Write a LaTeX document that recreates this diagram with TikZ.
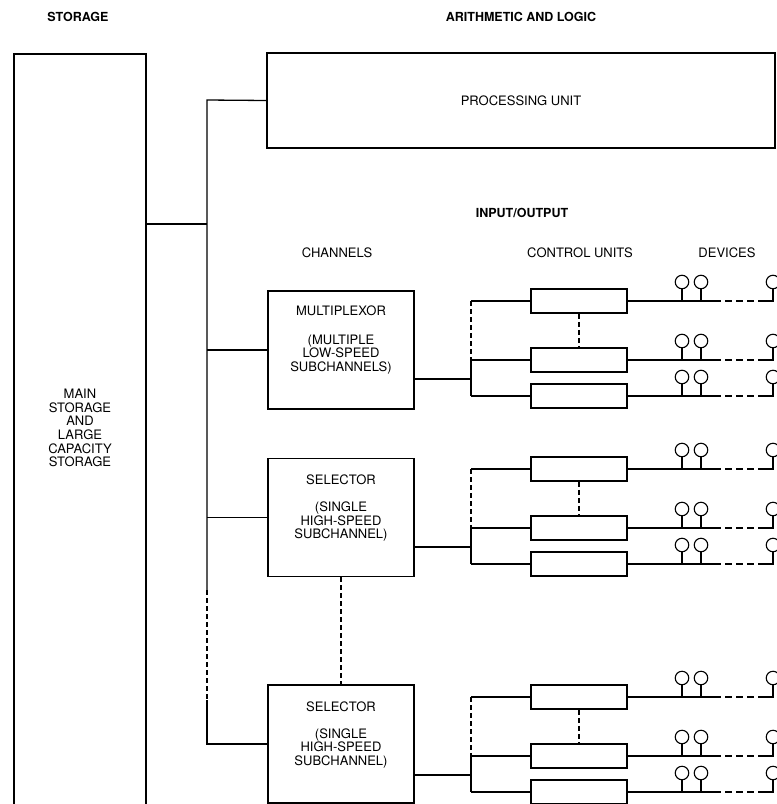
\documentclass[tikz,border=0pt]{standalone}
\usepackage{fontspec}
\setmainfont{TeX Gyre Heros}
\begin{document}
\begin{tikzpicture}[x=1pt,y=-1pt,
  box/.style={draw, rectangle, line width=1.5pt, inner sep=0pt},
  chan/.style={box, minimum width=146pt, minimum height=118pt},
  cu/.style={draw, rectangle, line width=1.8pt, minimum width=96pt, minimum height=24pt, inner sep=0pt},
  dev/.style={draw, circle, line width=1.1pt, minimum size=13.5pt, inner sep=0pt},
  wire/.style={line width=1.3pt},
  dsh/.style={wire, dash pattern=on 7pt off 4pt},
  vdsh/.style={wire, dash pattern=on 5pt off 3pt},
  lbl/.style={font=\fontsize{13}{13.6}\selectfont, inner sep=0pt},
  head/.style={font=\fontsize{12.5}{14}\selectfont\bfseries, inner sep=0pt}]
\useasboundingbox (0,0) rectangle (777,804);
\begin{scope}
\clip (0,0) rectangle (777,804);

% headings
\node[head] (hstor) at (78,17) {STORAGE};
\node[head] (harith) at (521,17) {ARITHMETIC AND LOGIC};
\node[head] (hio) at (522,213) {INPUT/OUTPUT};
\node[lbl] (hchan) at (337,253) {CHANNELS};
\node[lbl] (hcu) at (580,253) {CONTROL UNITS};
\node[lbl] (hdev) at (727,253) {DEVICES};

% storage
\node[box, minimum width=132pt, minimum height=800pt, anchor=north] (stor) at (80,53) {};
\node[lbl, align=center] (stort) at (80,428) {MAIN\\STORAGE\\AND\\LARGE\\CAPACITY\\STORAGE};

% processing unit
\node[box, minimum width=508pt, minimum height=95pt] (pu) at (521,100.5) {};
\node[lbl] (put) at (pu.center) {PROCESSING UNIT};

% channels
\node[chan] (mpx) at (341,350) {};
\node[chan] (sel1) at (341,517.5) {};
\node[chan] (sel2) at (341,744) {};
\node[lbl] (mpxa) at ([yshift=-21pt]mpx.north) {MULTIPLEXOR};
\node[lbl, align=center] (mpxb) at ([yshift=-64pt]mpx.north) {(MULTIPLE\\LOW-SPEED\\SUBCHANNELS)};
\node[lbl] (sel1a) at ([yshift=-22pt]sel1.north) {SELECTOR};
\node[lbl, align=center] (sel1b) at ([yshift=-64pt]sel1.north) {(SINGLE\\HIGH-SPEED\\SUBCHANNEL)};
\node[lbl] (sel2a) at ([yshift=-23pt]sel2.north) {SELECTOR};
\node[lbl, align=center] (sel2b) at ([yshift=-64pt]sel2.north) {(SINGLE\\HIGH-SPEED\\SUBCHANNEL)};

% bus
\coordinate (btop) at (207,100);
\coordinate (bstor) at (207,224);
\coordinate (bd1) at (207,590);
\coordinate (bd2) at (207,700);
\draw[wire] (pu.west) -- (btop) -- (bd1);
\draw[vdsh] (bd1) -- (bd2);
\draw[wire] (bd2) |- (sel2.west);
\draw[wire] (stor.east |- bstor) -- (bstor);
\draw[wire] (mpx.west -| btop) -- (mpx.west);
\draw[wire] (sel1.west -| btop) -- (sel1.west);
\draw[vdsh] (sel1.south) -- (sel2.north);

% control units and devices
\foreach \g/\T/\ch in {1/301/mpx, 2/469/sel1, 3/697/sel2} {
  \coordinate (rt\g) at (471,\T);
  \coordinate (rm\g) at (471,\T+59);
  \coordinate (rb\g) at (471,\T+95);
  \coordinate (rj\g) at (471,\T+78);
  \draw[wire] (\ch.east |- rj\g) -- (rj\g);
  \draw[vdsh] (rt\g) -- (rm\g);
  \draw[wire] (rm\g) -- (rb\g);
  \foreach \k/\dy in {1/0, 2/59, 3/95} {
    \node[cu] (cu\g\k) at (579,\T+\dy) {};
    \node[dev] (da\g\k) at (682,\T+\dy-19) {};
    \node[dev] (db\g\k) at (701,\T+\dy-19) {};
    \node[dev] (dc\g\k) at (773,\T+\dy-19) {};
    \coordinate (s\g\k) at (714,\T+\dy);
    \coordinate (e\g\k) at (760,\T+\dy);
    \draw[wire] (cu\g\k.west -| rt\g) -- (cu\g\k.west);
    \draw[wire] (cu\g\k.east) -- (s\g\k);
    \draw[dsh] (s\g\k) -- (e\g\k);
    \draw[wire] (e\g\k) -| (dc\g\k.south);
    \draw[wire] (da\g\k.south) -- (da\g\k.south |- s\g\k);
    \draw[wire] (db\g\k.south) -- (db\g\k.south |- s\g\k);
  }
  \draw[vdsh] (cu\g1.south) -- (cu\g2.north);
}
\end{scope}
\end{tikzpicture}
\end{document}
